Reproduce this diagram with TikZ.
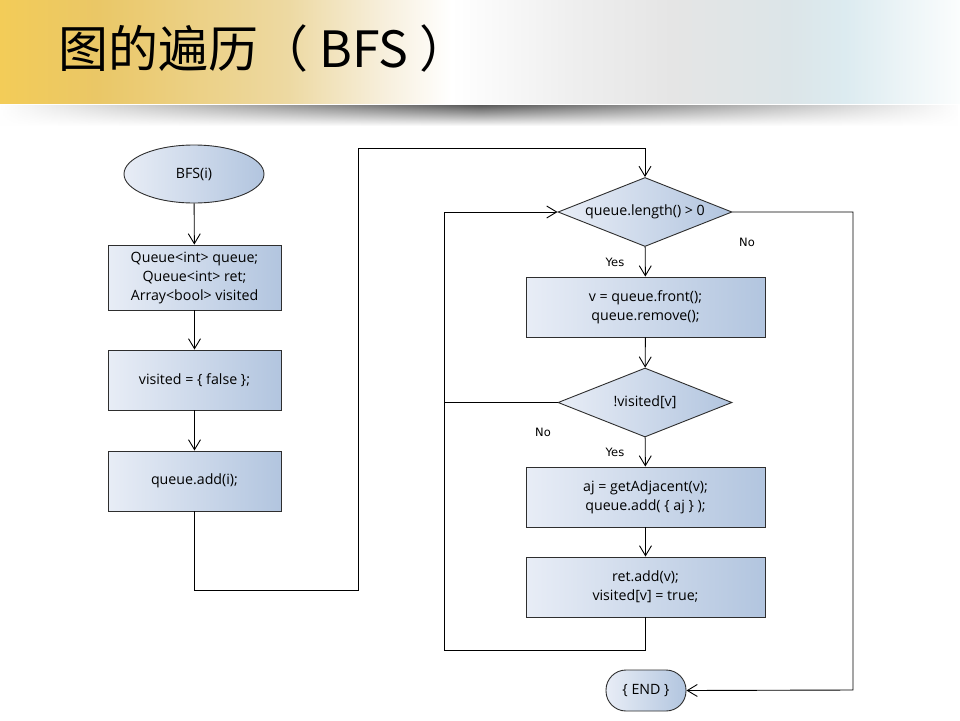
\documentclass[tikz,border=0pt]{standalone}
\usepackage{fontspec}
\setmainfont{Open Sans}
\newfontfamily\cjk{Noto Sans CJK SC}
\newfontfamily\lblfont{DejaVu Sans}
\usetikzlibrary{arrows.meta,shapes.geometric,fadings}
\definecolor{boxL}{HTML}{E8EDF6}
\definecolor{boxR}{HTML}{B2C5DF}
\definecolor{edgec}{HTML}{2E2E2E}
\definecolor{bandA}{HTML}{F3CC58}
\definecolor{bandB}{HTML}{EAC766}
\definecolor{bandC}{HTML}{EDD9A2}
\definecolor{bandD}{HTML}{F7EFDC}
\definecolor{bandE}{HTML}{FFFFFF}
\definecolor{bandF}{HTML}{EEEEEE}
\definecolor{bandG}{HTML}{E5E5E5}
\definecolor{bandH}{HTML}{DCE5E8}
\definecolor{bandI}{HTML}{DCEBF0}
\definecolor{bandJ}{HTML}{FBFDFD}
\pgfdeclarehorizontalshading{titleband}{100bp}{%
  color(0bp)=(bandA); color(25bp)=(bandA); color(30bp)=(bandB);
  color(40bp)=(bandC); color(45bp)=(bandD); color(48.5bp)=(bandE);
  color(55bp)=(bandF); color(60bp)=(bandG); color(66bp)=(bandH);
  color(69bp)=(bandI); color(75bp)=(bandJ); color(100bp)=(bandJ)}
\tikzfading[name=sidefade, left color=transparent!100, right color=transparent!100, middle color=transparent!0]
\tikzset{
  arr/.style={draw=black, line width=0.9pt, -{Straight Barb[length=10pt,width=12pt,line width=0.9pt]}},
  conn/.style={draw=black, line width=0.9pt},
  proc/.style={draw=edgec, line width=0.9pt, left color=boxL, right color=boxR, rectangle,
    minimum width=173pt, minimum height=60pt, align=center, inner sep=0pt,
    font=\fontsize{14.2}{19}\selectfont},
  wideproc/.style={proc, minimum width=239pt},
  decision/.style={draw=edgec, line width=0.9pt, left color=boxL, right color=boxR, diamond,
    aspect=2.5, minimum width=174pt, minimum height=69pt, inner sep=0pt,
    font=\fontsize{14.2}{19}\selectfont},
  startnode/.style={draw=edgec, line width=0.9pt, left color=boxL, right color=boxR, ellipse,
    minimum width=140pt, minimum height=58pt, inner sep=0pt, font=\fontsize{14.2}{19}\selectfont},
  endnode/.style={draw=edgec, line width=0.9pt, left color=boxL, right color=boxR, rectangle,
    rounded corners=20pt, minimum width=80pt, minimum height=41pt, inner sep=0pt,
    font=\fontsize{14.2}{19}\selectfont},
  lbl/.style={font=\lblfont\fontsize{11.5}{13}\selectfont, inner sep=0pt}
}
\begin{document}
\begin{tikzpicture}[x=1pt,y=-1pt]
\useasboundingbox (0,0) rectangle (960,720);
\fill[white] (0,0) rectangle (960,720);
% title band
\shade[shading=titleband] (0,0) rectangle (960,103);
\shade[top color=black!65, bottom color=white, path fading=sidefade] (0,105) rectangle (960,126);
\node[anchor=west, font=\cjk\fontsize{50}{56}\selectfont, inner sep=0pt] (title) at (58,48) {图的遍历（ BFS ）};
% left column
\node[startnode] (s) at (194,174) {BFS(i)};
\node[proc, minimum height=65pt] (b1) at (194.5,277.5) {Queue<int> queue;\\Queue<int> ret;\\Array<bool> visited};
\node[proc] (b2) at (194.5,380) {visited = \{ false \};};
\node[proc] (b3) at (194.5,481) {queue.add(i);};
% right column
\node[decision] (d1) at (645,212) {queue.length() > 0};
\node[wideproc] (b4) at (645.5,307) {v = queue.front();\\queue.remove();};
\node[decision] (d2) at (645,402.5) {!visited[v]};
\node[wideproc] (b5) at (645.5,497) {aj = getAdjacent(v);\\queue.add( \{ aj \} );};
\node[wideproc] (b6) at (645.5,587) {ret.add(v);\\visited[v] = true;};
\node[endnode] (fin) at (646,690.5) {\{ END \}};
% labels
\node[lbl] (y1) at (615,262) {Yes};
\node[lbl] (n1) at (747,242) {No};
\node[lbl] (n2) at (543,432) {No};
\node[lbl] (y2) at (615,452) {Yes};
% helper coordinates
\coordinate (t1) at (358,590);
\coordinate (t2) at (358,148);
\coordinate (l1) at (444,650);
\coordinate (r1) at (853,690);
% connectors
\draw[arr] (s) -- (b1);
\draw[arr] (b1) -- (b2);
\draw[arr] (b2) -- (b3);
\draw[arr] (b3.south) |- (t1) -- (t2) -| (d1.north);
\draw[arr] (d1) -- (b4);
\draw[arr] (b4) -- (d2);
\draw[arr] (d2) -- (b5);
\draw[arr] (b5) -- (b6);
\draw[arr] (b6.south) |- (l1) |- (d1.west);
\draw[conn] (d2.west) -- (d2.west -| l1);
\draw[arr] (d1.east) -| (r1) -- (fin.east);
\end{tikzpicture}
\end{document}
